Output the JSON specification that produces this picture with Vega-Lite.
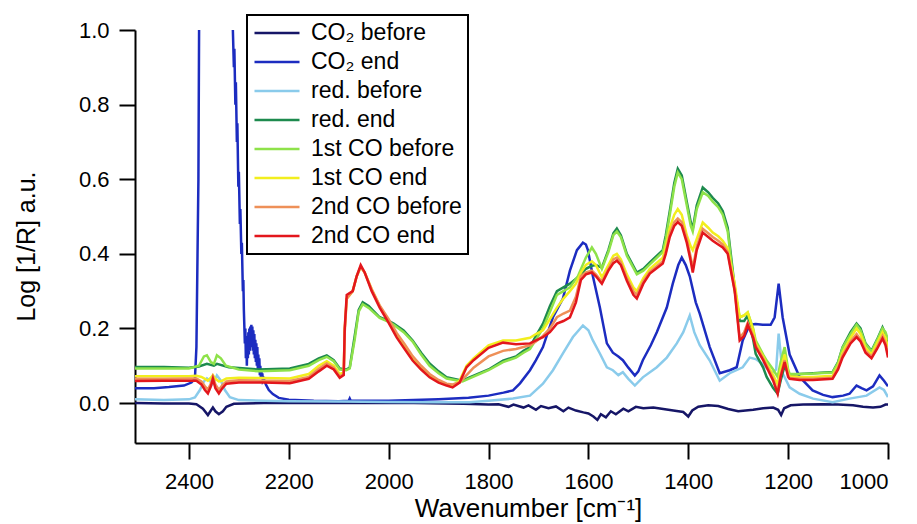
{
  "$schema": "https://vega.github.io/schema/vega-lite/v6.json",
  "width": 753,
  "height": 413,
  "autosize": "none",
  "padding": {"left": 135, "top": 30, "right": 29, "bottom": 81},
  "background": "white",
  "config": {"view": {"stroke": null}, "font": "Liberation Sans"},
  "datasets": {
    "spectra": [
      {"s":"CO₂ before","w":2508,"v":0.000},{"s":"CO₂ before","w":2450,"v":-0.001},{"s":"CO₂ before","w":2400,"v":-0.001},{"s":"CO₂ before","w":2385,"v":-0.003},{"s":"CO₂ before","w":2372,"v":-0.015},{"s":"CO₂ before","w":2362,"v":-0.032},{"s":"CO₂ before","w":2356,"v":-0.02},{"s":"CO₂ before","w":2352,"v":-0.012},{"s":"CO₂ before","w":2347,"v":-0.022},{"s":"CO₂ before","w":2340,"v":-0.03},{"s":"CO₂ before","w":2332,"v":-0.022},{"s":"CO₂ before","w":2325,"v":-0.01},{"s":"CO₂ before","w":2310,"v":-0.002},{"s":"CO₂ before","w":2250,"v":0.0},{"s":"CO₂ before","w":2150,"v":0.0},{"s":"CO₂ before","w":2050,"v":0.0},{"s":"CO₂ before","w":1950,"v":0.0},{"s":"CO₂ before","w":1850,"v":-0.002},{"s":"CO₂ before","w":1800,"v":-0.004},{"s":"CO₂ before","w":1780,"v":-0.003},{"s":"CO₂ before","w":1760,"v":-0.01},{"s":"CO₂ before","w":1750,"v":-0.004},{"s":"CO₂ before","w":1730,"v":-0.012},{"s":"CO₂ before","w":1720,"v":-0.006},{"s":"CO₂ before","w":1705,"v":-0.018},{"s":"CO₂ before","w":1695,"v":-0.008},{"s":"CO₂ before","w":1680,"v":-0.014},{"s":"CO₂ before","w":1665,"v":-0.009},{"s":"CO₂ before","w":1650,"v":-0.022},{"s":"CO₂ before","w":1640,"v":-0.012},{"s":"CO₂ before","w":1625,"v":-0.02},{"s":"CO₂ before","w":1610,"v":-0.025},{"s":"CO₂ before","w":1600,"v":-0.028},{"s":"CO₂ before","w":1590,"v":-0.036},{"s":"CO₂ before","w":1582,"v":-0.045},{"s":"CO₂ before","w":1575,"v":-0.03},{"s":"CO₂ before","w":1565,"v":-0.038},{"s":"CO₂ before","w":1555,"v":-0.022},{"s":"CO₂ before","w":1545,"v":-0.03},{"s":"CO₂ before","w":1530,"v":-0.015},{"s":"CO₂ before","w":1520,"v":-0.022},{"s":"CO₂ before","w":1505,"v":-0.01},{"s":"CO₂ before","w":1490,"v":-0.014},{"s":"CO₂ before","w":1470,"v":-0.012},{"s":"CO₂ before","w":1450,"v":-0.016},{"s":"CO₂ before","w":1430,"v":-0.02},{"s":"CO₂ before","w":1410,"v":-0.024},{"s":"CO₂ before","w":1400,"v":-0.036},{"s":"CO₂ before","w":1392,"v":-0.02},{"s":"CO₂ before","w":1380,"v":-0.01},{"s":"CO₂ before","w":1360,"v":-0.006},{"s":"CO₂ before","w":1340,"v":-0.008},{"s":"CO₂ before","w":1320,"v":-0.016},{"s":"CO₂ before","w":1300,"v":-0.022},{"s":"CO₂ before","w":1270,"v":-0.018},{"s":"CO₂ before","w":1250,"v":-0.014},{"s":"CO₂ before","w":1230,"v":-0.012},{"s":"CO₂ before","w":1220,"v":-0.018},{"s":"CO₂ before","w":1214,"v":-0.032},{"s":"CO₂ before","w":1208,"v":-0.014},{"s":"CO₂ before","w":1195,"v":-0.006},{"s":"CO₂ before","w":1170,"v":-0.004},{"s":"CO₂ before","w":1130,"v":-0.003},{"s":"CO₂ before","w":1100,"v":-0.004},{"s":"CO₂ before","w":1070,"v":-0.006},{"s":"CO₂ before","w":1050,"v":-0.01},{"s":"CO₂ before","w":1030,"v":-0.012},{"s":"CO₂ before","w":1015,"v":-0.01},{"s":"CO₂ before","w":1005,"v":-0.004},{"s":"CO₂ before","w":1000,"v":-0.004},

      {"s":"CO₂ end","w":2508,"v":0.04},{"s":"CO₂ end","w":2470,"v":0.04},{"s":"CO₂ end","w":2440,"v":0.043},{"s":"CO₂ end","w":2410,"v":0.047},{"s":"CO₂ end","w":2395,"v":0.055},{"s":"CO₂ end","w":2388,"v":0.065},{"s":"CO₂ end","w":2385,"v":0.15},{"s":"CO₂ end","w":2381,"v":0.6},{"s":"CO₂ end","w":2378,"v":1.5},{"s":"CO₂ end","w":2345,"v":1.5},{"s":"CO₂ end","w":2316,"v":1.5},{"s":"CO₂ end","w":2312,"v":1.0},{"s":"CO₂ end","w":2310,"v":0.9},{"s":"CO₂ end","w":2309,"v":0.95},{"s":"CO₂ end","w":2307,"v":0.8},{"s":"CO₂ end","w":2306,"v":0.86},{"s":"CO₂ end","w":2304,"v":0.7},{"s":"CO₂ end","w":2303,"v":0.75},{"s":"CO₂ end","w":2301,"v":0.58},{"s":"CO₂ end","w":2300,"v":0.62},{"s":"CO₂ end","w":2298,"v":0.48},{"s":"CO₂ end","w":2297,"v":0.52},{"s":"CO₂ end","w":2295,"v":0.4},{"s":"CO₂ end","w":2294,"v":0.43},{"s":"CO₂ end","w":2292,"v":0.3},{"s":"CO₂ end","w":2291,"v":0.33},{"s":"CO₂ end","w":2290,"v":0.25},{"s":"CO₂ end","w":2288,"v":0.16},{"s":"CO₂ end","w":2287,"v":0.2},{"s":"CO₂ end","w":2286,"v":0.12},{"s":"CO₂ end","w":2285,"v":0.17},{"s":"CO₂ end","w":2284,"v":0.1},{"s":"CO₂ end","w":2283,"v":0.18},{"s":"CO₂ end","w":2282,"v":0.12},{"s":"CO₂ end","w":2281,"v":0.19},{"s":"CO₂ end","w":2280,"v":0.13},{"s":"CO₂ end","w":2279,"v":0.2},{"s":"CO₂ end","w":2278,"v":0.14},{"s":"CO₂ end","w":2277,"v":0.205},{"s":"CO₂ end","w":2276,"v":0.15},{"s":"CO₂ end","w":2275,"v":0.21},{"s":"CO₂ end","w":2274,"v":0.15},{"s":"CO₂ end","w":2273,"v":0.205},{"s":"CO₂ end","w":2272,"v":0.14},{"s":"CO₂ end","w":2271,"v":0.195},{"s":"CO₂ end","w":2270,"v":0.13},{"s":"CO₂ end","w":2269,"v":0.185},{"s":"CO₂ end","w":2268,"v":0.12},{"s":"CO₂ end","w":2267,"v":0.17},{"s":"CO₂ end","w":2266,"v":0.11},{"s":"CO₂ end","w":2265,"v":0.16},{"s":"CO₂ end","w":2264,"v":0.1},{"s":"CO₂ end","w":2263,"v":0.15},{"s":"CO₂ end","w":2262,"v":0.09},{"s":"CO₂ end","w":2261,"v":0.13},{"s":"CO₂ end","w":2260,"v":0.085},{"s":"CO₂ end","w":2259,"v":0.12},{"s":"CO₂ end","w":2258,"v":0.075},{"s":"CO₂ end","w":2257,"v":0.1},{"s":"CO₂ end","w":2256,"v":0.07},{"s":"CO₂ end","w":2255,"v":0.09},{"s":"CO₂ end","w":2254,"v":0.065},{"s":"CO₂ end","w":2253,"v":0.08},{"s":"CO₂ end","w":2252,"v":0.06},{"s":"CO₂ end","w":2250,"v":0.065},{"s":"CO₂ end","w":2246,"v":0.05},{"s":"CO₂ end","w":2240,"v":0.035},{"s":"CO₂ end","w":2232,"v":0.024},{"s":"CO₂ end","w":2220,"v":0.014},{"s":"CO₂ end","w":2200,"v":0.009},{"s":"CO₂ end","w":2150,"v":0.006},{"s":"CO₂ end","w":2100,"v":0.005},{"s":"CO₂ end","w":2080,"v":0.006},{"s":"CO₂ end","w":2078,"v":0.012},{"s":"CO₂ end","w":2076,"v":0.006},{"s":"CO₂ end","w":2000,"v":0.006},{"s":"CO₂ end","w":1900,"v":0.01},{"s":"CO₂ end","w":1840,"v":0.014},{"s":"CO₂ end","w":1800,"v":0.02},{"s":"CO₂ end","w":1770,"v":0.028},{"s":"CO₂ end","w":1751,"v":0.034},{"s":"CO₂ end","w":1737,"v":0.053},{"s":"CO₂ end","w":1717,"v":0.088},{"s":"CO₂ end","w":1705,"v":0.115},{"s":"CO₂ end","w":1691,"v":0.15},{"s":"CO₂ end","w":1671,"v":0.23},{"s":"CO₂ end","w":1651,"v":0.28},{"s":"CO₂ end","w":1637,"v":0.355},{"s":"CO₂ end","w":1623,"v":0.41},{"s":"CO₂ end","w":1611,"v":0.43},{"s":"CO₂ end","w":1605,"v":0.425},{"s":"CO₂ end","w":1601,"v":0.41},{"s":"CO₂ end","w":1591,"v":0.34},{"s":"CO₂ end","w":1577,"v":0.256},{"s":"CO₂ end","w":1563,"v":0.16},{"s":"CO₂ end","w":1551,"v":0.135},{"s":"CO₂ end","w":1540,"v":0.125},{"s":"CO₂ end","w":1531,"v":0.115},{"s":"CO₂ end","w":1520,"v":0.095},{"s":"CO₂ end","w":1507,"v":0.074},{"s":"CO₂ end","w":1500,"v":0.085},{"s":"CO₂ end","w":1491,"v":0.115},{"s":"CO₂ end","w":1475,"v":0.155},{"s":"CO₂ end","w":1463,"v":0.19},{"s":"CO₂ end","w":1443,"v":0.256},{"s":"CO₂ end","w":1431,"v":0.32},{"s":"CO₂ end","w":1420,"v":0.37},{"s":"CO₂ end","w":1413,"v":0.39},{"s":"CO₂ end","w":1405,"v":0.37},{"s":"CO₂ end","w":1397,"v":0.34},{"s":"CO₂ end","w":1385,"v":0.27},{"s":"CO₂ end","w":1377,"v":0.24},{"s":"CO₂ end","w":1357,"v":0.15},{"s":"CO₂ end","w":1337,"v":0.08},{"s":"CO₂ end","w":1317,"v":0.088},{"s":"CO₂ end","w":1303,"v":0.096},{"s":"CO₂ end","w":1291,"v":0.168},{"s":"CO₂ end","w":1277,"v":0.21},{"s":"CO₂ end","w":1265,"v":0.212},{"s":"CO₂ end","w":1251,"v":0.21},{"s":"CO₂ end","w":1235,"v":0.21},{"s":"CO₂ end","w":1227,"v":0.23},{"s":"CO₂ end","w":1219,"v":0.32},{"s":"CO₂ end","w":1211,"v":0.23},{"s":"CO₂ end","w":1197,"v":0.13},{"s":"CO₂ end","w":1177,"v":0.07},{"s":"CO₂ end","w":1151,"v":0.034},{"s":"CO₂ end","w":1130,"v":0.022},{"s":"CO₂ end","w":1111,"v":0.016},{"s":"CO₂ end","w":1090,"v":0.02},{"s":"CO₂ end","w":1077,"v":0.025},{"s":"CO₂ end","w":1063,"v":0.047},{"s":"CO₂ end","w":1053,"v":0.04},{"s":"CO₂ end","w":1043,"v":0.034},{"s":"CO₂ end","w":1030,"v":0.045},{"s":"CO₂ end","w":1017,"v":0.074},{"s":"CO₂ end","w":1008,"v":0.06},{"s":"CO₂ end","w":1000,"v":0.045},

      {"s":"red. before","w":2508,"v":0.01},{"s":"red. before","w":2450,"v":0.008},{"s":"red. before","w":2400,"v":0.01},{"s":"red. before","w":2388,"v":0.015},{"s":"red. before","w":2378,"v":0.035},{"s":"red. before","w":2370,"v":0.058},{"s":"red. before","w":2364,"v":0.066},{"s":"red. before","w":2358,"v":0.06},{"s":"red. before","w":2354,"v":0.05},{"s":"red. before","w":2349,"v":0.06},{"s":"red. before","w":2344,"v":0.074},{"s":"red. before","w":2336,"v":0.06},{"s":"red. before","w":2328,"v":0.035},{"s":"red. before","w":2318,"v":0.016},{"s":"red. before","w":2300,"v":0.008},{"s":"red. before","w":2200,"v":0.005},{"s":"red. before","w":2100,"v":0.004},{"s":"red. before","w":2000,"v":0.003},{"s":"red. before","w":1900,"v":0.002},{"s":"red. before","w":1838,"v":0.002},{"s":"red. before","w":1800,"v":0.006},{"s":"red. before","w":1751,"v":0.012},{"s":"red. before","w":1717,"v":0.02},{"s":"red. before","w":1691,"v":0.052},{"s":"red. before","w":1671,"v":0.088},{"s":"red. before","w":1651,"v":0.133},{"s":"red. before","w":1631,"v":0.177},{"s":"red. before","w":1611,"v":0.208},{"s":"red. before","w":1600,"v":0.195},{"s":"red. before","w":1591,"v":0.168},{"s":"red. before","w":1577,"v":0.133},{"s":"red. before","w":1563,"v":0.096},{"s":"red. before","w":1551,"v":0.088},{"s":"red. before","w":1540,"v":0.075},{"s":"red. before","w":1531,"v":0.083},{"s":"red. before","w":1520,"v":0.065},{"s":"red. before","w":1507,"v":0.047},{"s":"red. before","w":1491,"v":0.069},{"s":"red. before","w":1463,"v":0.096},{"s":"red. before","w":1443,"v":0.122},{"s":"red. before","w":1423,"v":0.16},{"s":"red. before","w":1410,"v":0.19},{"s":"red. before","w":1397,"v":0.235},{"s":"red. before","w":1388,"v":0.19},{"s":"red. before","w":1377,"v":0.155},{"s":"red. before","w":1357,"v":0.114},{"s":"red. before","w":1337,"v":0.06},{"s":"red. before","w":1317,"v":0.08},{"s":"red. before","w":1291,"v":0.096},{"s":"red. before","w":1277,"v":0.122},{"s":"red. before","w":1265,"v":0.118},{"s":"red. before","w":1251,"v":0.105},{"s":"red. before","w":1233,"v":0.08},{"s":"red. before","w":1224,"v":0.09},{"s":"red. before","w":1219,"v":0.186},{"s":"red. before","w":1214,"v":0.12},{"s":"red. before","w":1211,"v":0.08},{"s":"red. before","w":1197,"v":0.042},{"s":"red. before","w":1177,"v":0.025},{"s":"red. before","w":1150,"v":0.012},{"s":"red. before","w":1111,"v":0.002},{"s":"red. before","w":1077,"v":0.012},{"s":"red. before","w":1043,"v":0.02},{"s":"red. before","w":1017,"v":0.042},{"s":"red. before","w":1008,"v":0.035},{"s":"red. before","w":1000,"v":0.016},

      {"s":"red. end","w":2508,"v":0.097},{"s":"red. end","w":2450,"v":0.097},{"s":"red. end","w":2400,"v":0.095},{"s":"red. end","w":2380,"v":0.098},{"s":"red. end","w":2364,"v":0.105},{"s":"red. end","w":2350,"v":0.1},{"s":"red. end","w":2344,"v":0.105},{"s":"red. end","w":2320,"v":0.096},{"s":"red. end","w":2260,"v":0.09},{"s":"red. end","w":2198,"v":0.093},{"s":"red. end","w":2160,"v":0.105},{"s":"red. end","w":2140,"v":0.12},{"s":"red. end","w":2124,"v":0.128},{"s":"red. end","w":2110,"v":0.115},{"s":"red. end","w":2098,"v":0.093},{"s":"red. end","w":2085,"v":0.09},{"s":"red. end","w":2078,"v":0.095},{"s":"red. end","w":2068,"v":0.18},{"s":"red. end","w":2060,"v":0.25},{"s":"red. end","w":2052,"v":0.27},{"s":"red. end","w":2040,"v":0.26},{"s":"red. end","w":2018,"v":0.23},{"s":"red. end","w":2000,"v":0.22},{"s":"red. end","w":1990,"v":0.213},{"s":"red. end","w":1970,"v":0.195},{"s":"red. end","w":1952,"v":0.168},{"s":"red. end","w":1935,"v":0.135},{"s":"red. end","w":1918,"v":0.106},{"s":"red. end","w":1900,"v":0.085},{"s":"red. end","w":1884,"v":0.069},{"s":"red. end","w":1852,"v":0.06},{"s":"red. end","w":1838,"v":0.069},{"s":"red. end","w":1800,"v":0.09},{"s":"red. end","w":1771,"v":0.114},{"s":"red. end","w":1745,"v":0.125},{"s":"red. end","w":1730,"v":0.14},{"s":"red. end","w":1717,"v":0.15},{"s":"red. end","w":1705,"v":0.18},{"s":"red. end","w":1691,"v":0.213},{"s":"red. end","w":1677,"v":0.26},{"s":"red. end","w":1663,"v":0.3},{"s":"red. end","w":1650,"v":0.31},{"s":"red. end","w":1637,"v":0.32},{"s":"red. end","w":1621,"v":0.337},{"s":"red. end","w":1605,"v":0.36},{"s":"red. end","w":1593,"v":0.368},{"s":"red. end","w":1585,"v":0.37},{"s":"red. end","w":1573,"v":0.363},{"s":"red. end","w":1560,"v":0.41},{"s":"red. end","w":1550,"v":0.455},{"s":"red. end","w":1543,"v":0.468},{"s":"red. end","w":1535,"v":0.45},{"s":"red. end","w":1523,"v":0.4},{"s":"red. end","w":1503,"v":0.35},{"s":"red. end","w":1490,"v":0.36},{"s":"red. end","w":1477,"v":0.377},{"s":"red. end","w":1451,"v":0.41},{"s":"red. end","w":1445,"v":0.45},{"s":"red. end","w":1437,"v":0.515},{"s":"red. end","w":1428,"v":0.59},{"s":"red. end","w":1421,"v":0.628},{"s":"red. end","w":1413,"v":0.61},{"s":"red. end","w":1403,"v":0.54},{"s":"red. end","w":1395,"v":0.485},{"s":"red. end","w":1391,"v":0.467},{"s":"red. end","w":1383,"v":0.53},{"s":"red. end","w":1371,"v":0.578},{"s":"red. end","w":1360,"v":0.565},{"s":"red. end","w":1351,"v":0.55},{"s":"red. end","w":1340,"v":0.535},{"s":"red. end","w":1331,"v":0.515},{"s":"red. end","w":1321,"v":0.47},{"s":"red. end","w":1307,"v":0.31},{"s":"red. end","w":1297,"v":0.22},{"s":"red. end","w":1288,"v":0.22},{"s":"red. end","w":1281,"v":0.235},{"s":"red. end","w":1270,"v":0.17},{"s":"red. end","w":1265,"v":0.132},{"s":"red. end","w":1250,"v":0.095},{"s":"red. end","w":1243,"v":0.07},{"s":"red. end","w":1230,"v":0.04},{"s":"red. end","w":1221,"v":0.025},{"s":"red. end","w":1215,"v":0.06},{"s":"red. end","w":1207,"v":0.1},{"s":"red. end","w":1200,"v":0.08},{"s":"red. end","w":1197,"v":0.075},{"s":"red. end","w":1177,"v":0.078},{"s":"red. end","w":1150,"v":0.08},{"s":"red. end","w":1111,"v":0.083},{"s":"red. end","w":1100,"v":0.11},{"s":"red. end","w":1091,"v":0.15},{"s":"red. end","w":1075,"v":0.19},{"s":"red. end","w":1063,"v":0.213},{"s":"red. end","w":1055,"v":0.2},{"s":"red. end","w":1045,"v":0.16},{"s":"red. end","w":1033,"v":0.14},{"s":"red. end","w":1022,"v":0.17},{"s":"red. end","w":1011,"v":0.203},{"s":"red. end","w":1005,"v":0.185},{"s":"red. end","w":1000,"v":0.16},

      {"s":"1st CO before","w":2508,"v":0.093},{"s":"1st CO before","w":2450,"v":0.093},{"s":"1st CO before","w":2400,"v":0.093},{"s":"1st CO before","w":2380,"v":0.1},{"s":"1st CO before","w":2370,"v":0.125},{"s":"1st CO before","w":2364,"v":0.128},{"s":"1st CO before","w":2356,"v":0.11},{"s":"1st CO before","w":2350,"v":0.105},{"s":"1st CO before","w":2344,"v":0.128},{"s":"1st CO before","w":2336,"v":0.12},{"s":"1st CO before","w":2326,"v":0.1},{"s":"1st CO before","w":2300,"v":0.09},{"s":"1st CO before","w":2260,"v":0.085},{"s":"1st CO before","w":2198,"v":0.088},{"s":"1st CO before","w":2160,"v":0.1},{"s":"1st CO before","w":2140,"v":0.115},{"s":"1st CO before","w":2124,"v":0.124},{"s":"1st CO before","w":2110,"v":0.112},{"s":"1st CO before","w":2098,"v":0.09},{"s":"1st CO before","w":2085,"v":0.088},{"s":"1st CO before","w":2078,"v":0.093},{"s":"1st CO before","w":2068,"v":0.17},{"s":"1st CO before","w":2060,"v":0.245},{"s":"1st CO before","w":2052,"v":0.265},{"s":"1st CO before","w":2040,"v":0.255},{"s":"1st CO before","w":2018,"v":0.228},{"s":"1st CO before","w":2000,"v":0.218},{"s":"1st CO before","w":1990,"v":0.21},{"s":"1st CO before","w":1970,"v":0.19},{"s":"1st CO before","w":1952,"v":0.165},{"s":"1st CO before","w":1935,"v":0.13},{"s":"1st CO before","w":1918,"v":0.1},{"s":"1st CO before","w":1900,"v":0.08},{"s":"1st CO before","w":1884,"v":0.066},{"s":"1st CO before","w":1852,"v":0.058},{"s":"1st CO before","w":1838,"v":0.066},{"s":"1st CO before","w":1800,"v":0.088},{"s":"1st CO before","w":1771,"v":0.11},{"s":"1st CO before","w":1745,"v":0.122},{"s":"1st CO before","w":1730,"v":0.135},{"s":"1st CO before","w":1717,"v":0.145},{"s":"1st CO before","w":1705,"v":0.17},{"s":"1st CO before","w":1691,"v":0.2},{"s":"1st CO before","w":1677,"v":0.245},{"s":"1st CO before","w":1663,"v":0.29},{"s":"1st CO before","w":1650,"v":0.3},{"s":"1st CO before","w":1637,"v":0.31},{"s":"1st CO before","w":1621,"v":0.34},{"s":"1st CO before","w":1605,"v":0.39},{"s":"1st CO before","w":1593,"v":0.417},{"s":"1st CO before","w":1585,"v":0.4},{"s":"1st CO before","w":1573,"v":0.36},{"s":"1st CO before","w":1560,"v":0.405},{"s":"1st CO before","w":1550,"v":0.45},{"s":"1st CO before","w":1543,"v":0.46},{"s":"1st CO before","w":1535,"v":0.445},{"s":"1st CO before","w":1523,"v":0.395},{"s":"1st CO before","w":1503,"v":0.345},{"s":"1st CO before","w":1490,"v":0.355},{"s":"1st CO before","w":1477,"v":0.372},{"s":"1st CO before","w":1451,"v":0.405},{"s":"1st CO before","w":1445,"v":0.44},{"s":"1st CO before","w":1437,"v":0.505},{"s":"1st CO before","w":1428,"v":0.58},{"s":"1st CO before","w":1421,"v":0.618},{"s":"1st CO before","w":1413,"v":0.6},{"s":"1st CO before","w":1403,"v":0.53},{"s":"1st CO before","w":1395,"v":0.475},{"s":"1st CO before","w":1391,"v":0.46},{"s":"1st CO before","w":1383,"v":0.52},{"s":"1st CO before","w":1371,"v":0.565},{"s":"1st CO before","w":1360,"v":0.555},{"s":"1st CO before","w":1351,"v":0.54},{"s":"1st CO before","w":1340,"v":0.525},{"s":"1st CO before","w":1331,"v":0.505},{"s":"1st CO before","w":1321,"v":0.46},{"s":"1st CO before","w":1307,"v":0.3},{"s":"1st CO before","w":1297,"v":0.23},{"s":"1st CO before","w":1288,"v":0.235},{"s":"1st CO before","w":1281,"v":0.243},{"s":"1st CO before","w":1270,"v":0.2},{"s":"1st CO before","w":1265,"v":0.168},{"s":"1st CO before","w":1250,"v":0.13},{"s":"1st CO before","w":1243,"v":0.114},{"s":"1st CO before","w":1230,"v":0.09},{"s":"1st CO before","w":1221,"v":0.07},{"s":"1st CO before","w":1215,"v":0.11},{"s":"1st CO before","w":1207,"v":0.15},{"s":"1st CO before","w":1200,"v":0.09},{"s":"1st CO before","w":1197,"v":0.078},{"s":"1st CO before","w":1177,"v":0.078},{"s":"1st CO before","w":1150,"v":0.079},{"s":"1st CO before","w":1111,"v":0.082},{"s":"1st CO before","w":1100,"v":0.108},{"s":"1st CO before","w":1091,"v":0.148},{"s":"1st CO before","w":1075,"v":0.185},{"s":"1st CO before","w":1063,"v":0.21},{"s":"1st CO before","w":1055,"v":0.195},{"s":"1st CO before","w":1045,"v":0.158},{"s":"1st CO before","w":1033,"v":0.138},{"s":"1st CO before","w":1022,"v":0.168},{"s":"1st CO before","w":1011,"v":0.2},{"s":"1st CO before","w":1005,"v":0.19},{"s":"1st CO before","w":1000,"v":0.17},

      {"s":"1st CO end","w":2508,"v":0.072},{"s":"1st CO end","w":2450,"v":0.072},{"s":"1st CO end","w":2400,"v":0.072},{"s":"1st CO end","w":2385,"v":0.073},{"s":"1st CO end","w":2375,"v":0.07},{"s":"1st CO end","w":2368,"v":0.065},{"s":"1st CO end","w":2362,"v":0.06},{"s":"1st CO end","w":2356,"v":0.068},{"s":"1st CO end","w":2352,"v":0.075},{"s":"1st CO end","w":2347,"v":0.065},{"s":"1st CO end","w":2340,"v":0.058},{"s":"1st CO end","w":2333,"v":0.06},{"s":"1st CO end","w":2325,"v":0.066},{"s":"1st CO end","w":2300,"v":0.068},{"s":"1st CO end","w":2250,"v":0.067},{"s":"1st CO end","w":2198,"v":0.066},{"s":"1st CO end","w":2160,"v":0.078},{"s":"1st CO end","w":2140,"v":0.1},{"s":"1st CO end","w":2124,"v":0.112},{"s":"1st CO end","w":2110,"v":0.1},{"s":"1st CO end","w":2098,"v":0.078},{"s":"1st CO end","w":2090,"v":0.082},{"s":"1st CO end","w":2088,"v":0.2},{"s":"1st CO end","w":2084,"v":0.28},{"s":"1st CO end","w":2072,"v":0.3},{"s":"1st CO end","w":2064,"v":0.34},{"s":"1st CO end","w":2056,"v":0.365},{"s":"1st CO end","w":2048,"v":0.35},{"s":"1st CO end","w":2034,"v":0.305},{"s":"1st CO end","w":2018,"v":0.26},{"s":"1st CO end","w":2000,"v":0.22},{"s":"1st CO end","w":1984,"v":0.182},{"s":"1st CO end","w":1968,"v":0.15},{"s":"1st CO end","w":1952,"v":0.118},{"s":"1st CO end","w":1935,"v":0.092},{"s":"1st CO end","w":1918,"v":0.072},{"s":"1st CO end","w":1900,"v":0.058},{"s":"1st CO end","w":1884,"v":0.05},{"s":"1st CO end","w":1872,"v":0.047},{"s":"1st CO end","w":1858,"v":0.06},{"s":"1st CO end","w":1844,"v":0.1},{"s":"1st CO end","w":1830,"v":0.12},{"s":"1st CO end","w":1800,"v":0.155},{"s":"1st CO end","w":1771,"v":0.168},{"s":"1st CO end","w":1745,"v":0.168},{"s":"1st CO end","w":1717,"v":0.175},{"s":"1st CO end","w":1705,"v":0.185},{"s":"1st CO end","w":1691,"v":0.195},{"s":"1st CO end","w":1677,"v":0.225},{"s":"1st CO end","w":1663,"v":0.256},{"s":"1st CO end","w":1650,"v":0.28},{"s":"1st CO end","w":1637,"v":0.3},{"s":"1st CO end","w":1625,"v":0.32},{"s":"1st CO end","w":1615,"v":0.35},{"s":"1st CO end","w":1605,"v":0.37},{"s":"1st CO end","w":1593,"v":0.38},{"s":"1st CO end","w":1585,"v":0.37},{"s":"1st CO end","w":1573,"v":0.337},{"s":"1st CO end","w":1560,"v":0.37},{"s":"1st CO end","w":1550,"v":0.395},{"s":"1st CO end","w":1543,"v":0.4},{"s":"1st CO end","w":1535,"v":0.385},{"s":"1st CO end","w":1523,"v":0.345},{"s":"1st CO end","w":1510,"v":0.31},{"s":"1st CO end","w":1503,"v":0.3},{"s":"1st CO end","w":1490,"v":0.335},{"s":"1st CO end","w":1477,"v":0.36},{"s":"1st CO end","w":1451,"v":0.39},{"s":"1st CO end","w":1445,"v":0.42},{"s":"1st CO end","w":1437,"v":0.47},{"s":"1st CO end","w":1428,"v":0.505},{"s":"1st CO end","w":1421,"v":0.52},{"s":"1st CO end","w":1413,"v":0.505},{"s":"1st CO end","w":1403,"v":0.45},{"s":"1st CO end","w":1395,"v":0.42},{"s":"1st CO end","w":1391,"v":0.41},{"s":"1st CO end","w":1383,"v":0.44},{"s":"1st CO end","w":1371,"v":0.484},{"s":"1st CO end","w":1360,"v":0.47},{"s":"1st CO end","w":1351,"v":0.457},{"s":"1st CO end","w":1340,"v":0.447},{"s":"1st CO end","w":1331,"v":0.435},{"s":"1st CO end","w":1321,"v":0.415},{"s":"1st CO end","w":1307,"v":0.32},{"s":"1st CO end","w":1297,"v":0.23},{"s":"1st CO end","w":1288,"v":0.235},{"s":"1st CO end","w":1281,"v":0.243},{"s":"1st CO end","w":1270,"v":0.195},{"s":"1st CO end","w":1265,"v":0.16},{"s":"1st CO end","w":1250,"v":0.125},{"s":"1st CO end","w":1243,"v":0.105},{"s":"1st CO end","w":1230,"v":0.075},{"s":"1st CO end","w":1221,"v":0.05},{"s":"1st CO end","w":1215,"v":0.09},{"s":"1st CO end","w":1207,"v":0.13},{"s":"1st CO end","w":1200,"v":0.08},{"s":"1st CO end","w":1197,"v":0.072},{"s":"1st CO end","w":1177,"v":0.07},{"s":"1st CO end","w":1150,"v":0.07},{"s":"1st CO end","w":1111,"v":0.073},{"s":"1st CO end","w":1100,"v":0.1},{"s":"1st CO end","w":1091,"v":0.135},{"s":"1st CO end","w":1075,"v":0.175},{"s":"1st CO end","w":1063,"v":0.2},{"s":"1st CO end","w":1055,"v":0.185},{"s":"1st CO end","w":1045,"v":0.148},{"s":"1st CO end","w":1033,"v":0.13},{"s":"1st CO end","w":1022,"v":0.16},{"s":"1st CO end","w":1011,"v":0.19},{"s":"1st CO end","w":1005,"v":0.175},{"s":"1st CO end","w":1000,"v":0.15},

      {"s":"2nd CO before","w":2508,"v":0.065},{"s":"2nd CO before","w":2450,"v":0.065},{"s":"2nd CO before","w":2400,"v":0.066},{"s":"2nd CO before","w":2385,"v":0.066},{"s":"2nd CO before","w":2375,"v":0.058},{"s":"2nd CO before","w":2368,"v":0.045},{"s":"2nd CO before","w":2362,"v":0.036},{"s":"2nd CO before","w":2356,"v":0.052},{"s":"2nd CO before","w":2352,"v":0.07},{"s":"2nd CO before","w":2347,"v":0.05},{"s":"2nd CO before","w":2340,"v":0.035},{"s":"2nd CO before","w":2333,"v":0.048},{"s":"2nd CO before","w":2325,"v":0.058},{"s":"2nd CO before","w":2300,"v":0.061},{"s":"2nd CO before","w":2250,"v":0.06},{"s":"2nd CO before","w":2198,"v":0.059},{"s":"2nd CO before","w":2160,"v":0.07},{"s":"2nd CO before","w":2140,"v":0.092},{"s":"2nd CO before","w":2124,"v":0.106},{"s":"2nd CO before","w":2110,"v":0.095},{"s":"2nd CO before","w":2098,"v":0.072},{"s":"2nd CO before","w":2090,"v":0.078},{"s":"2nd CO before","w":2088,"v":0.19},{"s":"2nd CO before","w":2084,"v":0.28},{"s":"2nd CO before","w":2072,"v":0.3},{"s":"2nd CO before","w":2064,"v":0.34},{"s":"2nd CO before","w":2056,"v":0.365},{"s":"2nd CO before","w":2048,"v":0.35},{"s":"2nd CO before","w":2034,"v":0.305},{"s":"2nd CO before","w":2018,"v":0.262},{"s":"2nd CO before","w":2000,"v":0.225},{"s":"2nd CO before","w":1984,"v":0.188},{"s":"2nd CO before","w":1968,"v":0.158},{"s":"2nd CO before","w":1952,"v":0.126},{"s":"2nd CO before","w":1935,"v":0.1},{"s":"2nd CO before","w":1918,"v":0.078},{"s":"2nd CO before","w":1900,"v":0.062},{"s":"2nd CO before","w":1884,"v":0.052},{"s":"2nd CO before","w":1872,"v":0.05},{"s":"2nd CO before","w":1858,"v":0.055},{"s":"2nd CO before","w":1844,"v":0.075},{"s":"2nd CO before","w":1830,"v":0.095},{"s":"2nd CO before","w":1800,"v":0.125},{"s":"2nd CO before","w":1771,"v":0.14},{"s":"2nd CO before","w":1745,"v":0.145},{"s":"2nd CO before","w":1717,"v":0.155},{"s":"2nd CO before","w":1705,"v":0.165},{"s":"2nd CO before","w":1691,"v":0.18},{"s":"2nd CO before","w":1677,"v":0.2},{"s":"2nd CO before","w":1663,"v":0.23},{"s":"2nd CO before","w":1650,"v":0.24},{"s":"2nd CO before","w":1637,"v":0.248},{"s":"2nd CO before","w":1625,"v":0.285},{"s":"2nd CO before","w":1615,"v":0.34},{"s":"2nd CO before","w":1605,"v":0.35},{"s":"2nd CO before","w":1593,"v":0.355},{"s":"2nd CO before","w":1585,"v":0.345},{"s":"2nd CO before","w":1573,"v":0.325},{"s":"2nd CO before","w":1560,"v":0.36},{"s":"2nd CO before","w":1550,"v":0.385},{"s":"2nd CO before","w":1543,"v":0.39},{"s":"2nd CO before","w":1535,"v":0.377},{"s":"2nd CO before","w":1523,"v":0.335},{"s":"2nd CO before","w":1510,"v":0.3},{"s":"2nd CO before","w":1503,"v":0.29},{"s":"2nd CO before","w":1490,"v":0.327},{"s":"2nd CO before","w":1477,"v":0.352},{"s":"2nd CO before","w":1451,"v":0.38},{"s":"2nd CO before","w":1445,"v":0.405},{"s":"2nd CO before","w":1437,"v":0.455},{"s":"2nd CO before","w":1428,"v":0.485},{"s":"2nd CO before","w":1421,"v":0.495},{"s":"2nd CO before","w":1413,"v":0.485},{"s":"2nd CO before","w":1403,"v":0.44},{"s":"2nd CO before","w":1395,"v":0.39},{"s":"2nd CO before","w":1391,"v":0.36},{"s":"2nd CO before","w":1383,"v":0.42},{"s":"2nd CO before","w":1371,"v":0.467},{"s":"2nd CO before","w":1360,"v":0.455},{"s":"2nd CO before","w":1351,"v":0.445},{"s":"2nd CO before","w":1340,"v":0.435},{"s":"2nd CO before","w":1331,"v":0.425},{"s":"2nd CO before","w":1321,"v":0.405},{"s":"2nd CO before","w":1307,"v":0.305},{"s":"2nd CO before","w":1297,"v":0.175},{"s":"2nd CO before","w":1288,"v":0.19},{"s":"2nd CO before","w":1281,"v":0.215},{"s":"2nd CO before","w":1270,"v":0.18},{"s":"2nd CO before","w":1265,"v":0.155},{"s":"2nd CO before","w":1250,"v":0.12},{"s":"2nd CO before","w":1243,"v":0.1},{"s":"2nd CO before","w":1230,"v":0.065},{"s":"2nd CO before","w":1221,"v":0.03},{"s":"2nd CO before","w":1215,"v":0.075},{"s":"2nd CO before","w":1207,"v":0.115},{"s":"2nd CO before","w":1200,"v":0.075},{"s":"2nd CO before","w":1197,"v":0.067},{"s":"2nd CO before","w":1177,"v":0.065},{"s":"2nd CO before","w":1150,"v":0.065},{"s":"2nd CO before","w":1111,"v":0.068},{"s":"2nd CO before","w":1100,"v":0.095},{"s":"2nd CO before","w":1091,"v":0.128},{"s":"2nd CO before","w":1075,"v":0.165},{"s":"2nd CO before","w":1063,"v":0.185},{"s":"2nd CO before","w":1055,"v":0.17},{"s":"2nd CO before","w":1045,"v":0.14},{"s":"2nd CO before","w":1033,"v":0.125},{"s":"2nd CO before","w":1022,"v":0.15},{"s":"2nd CO before","w":1011,"v":0.18},{"s":"2nd CO before","w":1005,"v":0.162},{"s":"2nd CO before","w":1000,"v":0.13},

      {"s":"2nd CO end","w":2508,"v":0.059},{"s":"2nd CO end","w":2450,"v":0.06},{"s":"2nd CO end","w":2400,"v":0.06},{"s":"2nd CO end","w":2385,"v":0.06},{"s":"2nd CO end","w":2375,"v":0.05},{"s":"2nd CO end","w":2368,"v":0.035},{"s":"2nd CO end","w":2362,"v":0.026},{"s":"2nd CO end","w":2356,"v":0.045},{"s":"2nd CO end","w":2352,"v":0.065},{"s":"2nd CO end","w":2347,"v":0.04},{"s":"2nd CO end","w":2340,"v":0.026},{"s":"2nd CO end","w":2333,"v":0.04},{"s":"2nd CO end","w":2325,"v":0.052},{"s":"2nd CO end","w":2300,"v":0.055},{"s":"2nd CO end","w":2250,"v":0.055},{"s":"2nd CO end","w":2198,"v":0.053},{"s":"2nd CO end","w":2160,"v":0.065},{"s":"2nd CO end","w":2140,"v":0.085},{"s":"2nd CO end","w":2124,"v":0.1},{"s":"2nd CO end","w":2110,"v":0.09},{"s":"2nd CO end","w":2098,"v":0.068},{"s":"2nd CO end","w":2090,"v":0.075},{"s":"2nd CO end","w":2088,"v":0.2},{"s":"2nd CO end","w":2084,"v":0.29},{"s":"2nd CO end","w":2072,"v":0.3},{"s":"2nd CO end","w":2064,"v":0.34},{"s":"2nd CO end","w":2056,"v":0.37},{"s":"2nd CO end","w":2048,"v":0.35},{"s":"2nd CO end","w":2034,"v":0.3},{"s":"2nd CO end","w":2018,"v":0.256},{"s":"2nd CO end","w":2000,"v":0.215},{"s":"2nd CO end","w":1984,"v":0.176},{"s":"2nd CO end","w":1968,"v":0.145},{"s":"2nd CO end","w":1952,"v":0.114},{"s":"2nd CO end","w":1935,"v":0.09},{"s":"2nd CO end","w":1918,"v":0.069},{"s":"2nd CO end","w":1900,"v":0.055},{"s":"2nd CO end","w":1884,"v":0.047},{"s":"2nd CO end","w":1872,"v":0.042},{"s":"2nd CO end","w":1858,"v":0.055},{"s":"2nd CO end","w":1844,"v":0.096},{"s":"2nd CO end","w":1830,"v":0.115},{"s":"2nd CO end","w":1800,"v":0.148},{"s":"2nd CO end","w":1771,"v":0.162},{"s":"2nd CO end","w":1745,"v":0.158},{"s":"2nd CO end","w":1717,"v":0.16},{"s":"2nd CO end","w":1705,"v":0.168},{"s":"2nd CO end","w":1691,"v":0.177},{"s":"2nd CO end","w":1677,"v":0.19},{"s":"2nd CO end","w":1663,"v":0.213},{"s":"2nd CO end","w":1650,"v":0.22},{"s":"2nd CO end","w":1637,"v":0.23},{"s":"2nd CO end","w":1625,"v":0.27},{"s":"2nd CO end","w":1615,"v":0.33},{"s":"2nd CO end","w":1605,"v":0.345},{"s":"2nd CO end","w":1593,"v":0.35},{"s":"2nd CO end","w":1585,"v":0.34},{"s":"2nd CO end","w":1573,"v":0.32},{"s":"2nd CO end","w":1560,"v":0.355},{"s":"2nd CO end","w":1550,"v":0.375},{"s":"2nd CO end","w":1543,"v":0.382},{"s":"2nd CO end","w":1535,"v":0.37},{"s":"2nd CO end","w":1523,"v":0.328},{"s":"2nd CO end","w":1510,"v":0.29},{"s":"2nd CO end","w":1503,"v":0.28},{"s":"2nd CO end","w":1490,"v":0.32},{"s":"2nd CO end","w":1477,"v":0.347},{"s":"2nd CO end","w":1451,"v":0.374},{"s":"2nd CO end","w":1445,"v":0.4},{"s":"2nd CO end","w":1437,"v":0.445},{"s":"2nd CO end","w":1428,"v":0.475},{"s":"2nd CO end","w":1421,"v":0.485},{"s":"2nd CO end","w":1413,"v":0.475},{"s":"2nd CO end","w":1403,"v":0.43},{"s":"2nd CO end","w":1395,"v":0.38},{"s":"2nd CO end","w":1391,"v":0.35},{"s":"2nd CO end","w":1383,"v":0.41},{"s":"2nd CO end","w":1371,"v":0.457},{"s":"2nd CO end","w":1360,"v":0.445},{"s":"2nd CO end","w":1351,"v":0.435},{"s":"2nd CO end","w":1340,"v":0.425},{"s":"2nd CO end","w":1331,"v":0.417},{"s":"2nd CO end","w":1321,"v":0.4},{"s":"2nd CO end","w":1307,"v":0.3},{"s":"2nd CO end","w":1297,"v":0.168},{"s":"2nd CO end","w":1288,"v":0.18},{"s":"2nd CO end","w":1281,"v":0.21},{"s":"2nd CO end","w":1270,"v":0.175},{"s":"2nd CO end","w":1265,"v":0.15},{"s":"2nd CO end","w":1250,"v":0.115},{"s":"2nd CO end","w":1243,"v":0.096},{"s":"2nd CO end","w":1230,"v":0.06},{"s":"2nd CO end","w":1221,"v":0.025},{"s":"2nd CO end","w":1215,"v":0.07},{"s":"2nd CO end","w":1207,"v":0.11},{"s":"2nd CO end","w":1200,"v":0.07},{"s":"2nd CO end","w":1197,"v":0.065},{"s":"2nd CO end","w":1177,"v":0.062},{"s":"2nd CO end","w":1150,"v":0.062},{"s":"2nd CO end","w":1111,"v":0.065},{"s":"2nd CO end","w":1100,"v":0.09},{"s":"2nd CO end","w":1091,"v":0.122},{"s":"2nd CO end","w":1075,"v":0.16},{"s":"2nd CO end","w":1063,"v":0.177},{"s":"2nd CO end","w":1055,"v":0.165},{"s":"2nd CO end","w":1045,"v":0.135},{"s":"2nd CO end","w":1033,"v":0.12},{"s":"2nd CO end","w":1022,"v":0.145},{"s":"2nd CO end","w":1011,"v":0.173},{"s":"2nd CO end","w":1005,"v":0.155},{"s":"2nd CO end","w":1000,"v":0.122}
    ]
  },
  "data": {"name": "spectra"},
  "mark": {"type": "line", "strokeWidth": 2.5, "clip": true},
  "encoding": {
    "x": {
      "field": "w",
      "type": "quantitative",
      "scale": {"domain": [2508, 1000], "nice": false, "zero": false},
      "axis": {
        "values": [2400, 2200, 2000, 1800, 1600, 1400, 1200, 1000],
        "format": "d",
        "title": "Wavenumber [cm⁻¹]",
        "titleX": 393,
        "grid": false,
        "domainColor": "black",
        "domainWidth": 2,
        "tickColor": "black",
        "tickWidth": 2,
        "tickSize": 16,
        "labelFontSize": 22,
        "labelColor": "black",
        "labelPadding": 12,
        "titleFontSize": 26,
        "titleFontWeight": "normal",
        "titleColor": "black",
        "titlePadding": 3
      }
    },
    "y": {
      "field": "v",
      "type": "quantitative",
      "scale": {"domain": [-0.107, 1.0], "nice": false, "zero": false},
      "axis": {
        "values": [0, 0.2, 0.4, 0.6, 0.8, 1.0],
        "format": ".1f",
        "title": "Log [1/R] a.u.",
        "titleY": 216,
        "grid": false,
        "domainColor": "black",
        "domainWidth": 2,
        "tickColor": "black",
        "tickWidth": 2,
        "tickSize": 16,
        "labelFontSize": 22,
        "labelColor": "black",
        "labelPadding": 10,
        "titleFontSize": 25,
        "titleFontWeight": "normal",
        "titleColor": "black",
        "titlePadding": 39
      }
    },
    "color": {
      "field": "s",
      "type": "nominal",
      "scale": {
        "domain": ["CO₂ before", "CO₂ end", "red. before", "red. end", "1st CO before", "1st CO end", "2nd CO before", "2nd CO end"],
        "range": ["#161667", "#1c2cc0", "#8acbeb", "#1d8a4e", "#8ee24a", "#f2ee1e", "#ee9058", "#e3161c"]
      },
      "legend": {
        "orient": "none",
        "legendX": 112,
        "legendY": -15,
        "title": null,
        "symbolType": "stroke",
        "symbolSize": 2025,
        "symbolStrokeWidth": 2.5,
        "labelFontSize": 23,
        "labelColor": "black",
        "labelOffset": 10,
        "rowPadding": 5,
        "padding": 6,
        "strokeColor": "black",
        "fillColor": "white",
        "encode": {
          "legend": {"update": {"strokeWidth": {"value": 2}}},
          "symbols": {"update": {"y": {"value": 12}}},
          "labels": {"update": {"y": {"value": 12}}}
        }
      }
    }
  }
}
